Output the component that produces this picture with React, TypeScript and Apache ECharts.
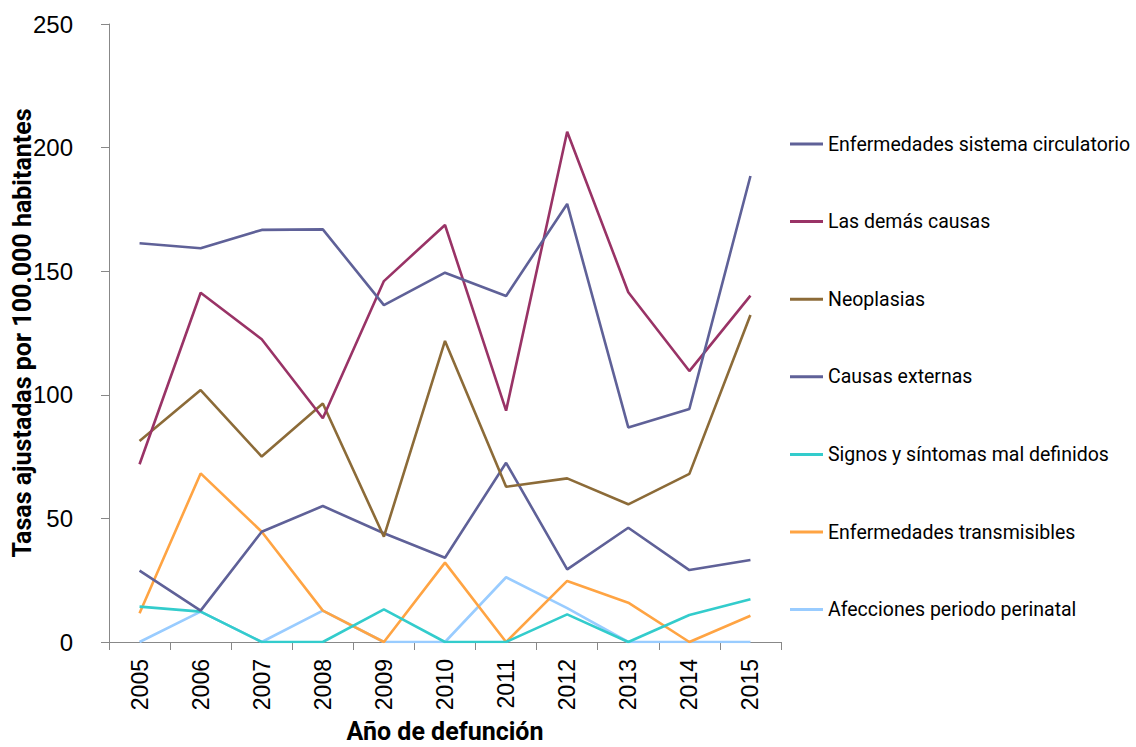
import React, { useEffect, useRef } from "react";
import * as echarts from "echarts";

const years = ["2005", "2006", "2007", "2008", "2009", "2010", "2011", "2012", "2013", "2014", "2015"];

const circulatorio = [161.3, 159.3, 166.7, 166.9, 136.3, 149.4, 140.0, 177.2, 86.8, 94.3, 188.5];
const demasCausas = [71.9, 141.3, 122.5, 90.5, 146.0, 168.7, 93.6, 206.4, 141.5, 109.6, 140.1];
const neoplasias = [81.3, 101.9, 75.0, 96.5, 42.6, 121.8, 62.8, 66.2, 55.7, 68.0, 132.3];
const externas = [28.9, 12.7, 44.6, 55.0, 44.0, 34.1, 72.5, 29.4, 46.2, 29.1, 33.2];
const signos = [14.3, 12.3, 0, 0, 13.2, 0, 0, 11.2, 0, 10.9, 17.3];
const transmisibles = [11.6, 68.2, 44.6, 12.7, 0, 32.1, 0, 24.7, 15.9, 0, 10.6];
const perinatal = [0, 12.3, 0, 12.7, 0, 0, 26.2, 13.7, 0, 0, 0];

const seriesNames = [
  "Enfermedades sistema circulatorio",
  "Las demás causas",
  "Neoplasias",
  "Causas externas",
  "Signos y síntomas mal definidos",
  "Enfermedades transmisibles",
  "Afecciones periodo perinatal",
];
const seriesData = [circulatorio, demasCausas, neoplasias, externas, signos, transmisibles, perinatal];
const seriesColors = ["#5f6198", "#993366", "#8c6b38", "#5f6198", "#33cccc", "#ffa443", "#99ccff"];

const narrow = "Roboto, 'Liberation Sans', sans-serif";
const arial = "'Liberation Sans', Arial, sans-serif";

export default function App() {
  const ref = useRef<HTMLDivElement>(null);
  useEffect(() => {
    if (!ref.current) return;
    const chart = echarts.init(ref.current, null, { renderer: "svg" });
    chart.setOption({
      animation: false,
      backgroundColor: "#ffffff",
      grid: { left: 109, right: 355, top: 24, bottom: 105, outerBoundsMode: "none", containLabel: false },
      legend: {
        orient: "vertical",
        left: 785,
        top: 129,
        icon: "rect",
        itemWidth: 33,
        itemHeight: 3,
        itemGap: 57.6,
        textStyle: { fontFamily: narrow, fontSize: 19.5, color: "#000", lineHeight: 20 },
        data: seriesNames,
      },
      xAxis: {
        type: "category",
        data: years,
        boundaryGap: true,
        name: "Año de defunción",
        nameLocation: "middle",
        nameGap: 77,
        nameMoveOverlap: false,
        nameTextStyle: { fontFamily: narrow, fontSize: 25, fontWeight: "bold", color: "#000" },
        axisLine: { lineStyle: { color: "#888", width: 1 } },
        axisTick: { show: true, alignWithLabel: false, length: 8, lineStyle: { color: "#888" } },
        axisLabel: { rotate: 90, fontFamily: arial, fontSize: 23, color: "#000", margin: 17 },
        splitLine: { show: false },
      },
      yAxis: {
        type: "value",
        min: 0,
        max: 250,
        interval: 50,
        name: "Tasas ajustadas por 100.000 habitantes",
        nameLocation: "middle",
        nameGap: 74,
        nameMoveOverlap: false,
        nameTextStyle: { fontFamily: narrow, fontSize: 25, fontWeight: "bold", color: "#000" },
        axisLine: { show: true, lineStyle: { color: "#888", width: 1 } },
        axisTick: { show: true, length: 8, lineStyle: { color: "#888" } },
        axisLabel: { fontFamily: arial, fontSize: 24, color: "#000", margin: 36 },
        splitLine: { show: false },
      },
      series: seriesNames.map((name, i) => ({
        name,
        type: "line",
        data: seriesData[i],
        symbol: "none",
        showSymbol: false,
        color: seriesColors[i],
        lineStyle: { color: seriesColors[i], width: 2.6 },
        z: 10 - i,
      })),
    });
    return () => chart.dispose();
  }, []);
  return (
    <div
      ref={ref}
      style={{ position: "fixed", left: 0, top: 0, width: 1136, height: 747 }}
    />
  );
}
